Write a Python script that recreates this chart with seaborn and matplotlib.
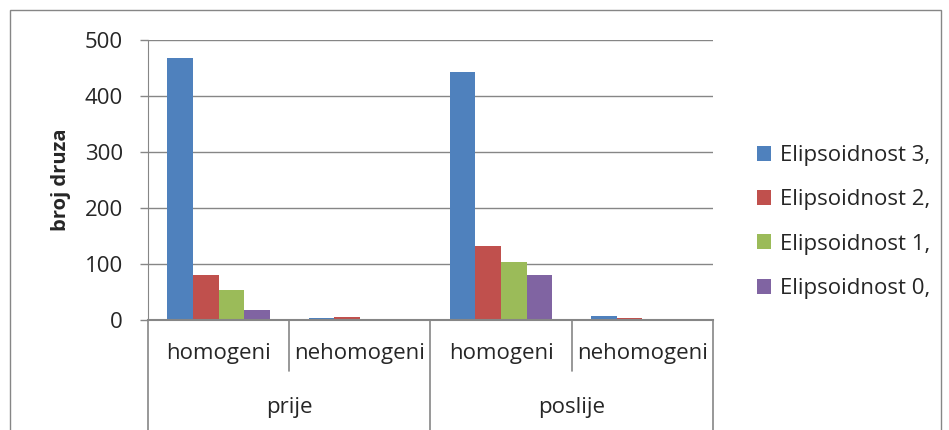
import numpy as np
import pandas as pd
import seaborn as sns
import matplotlib.pyplot as plt
from matplotlib.patches import Patch, Rectangle

# podaci ocitani sa slike
periodi = ['prije', 'prije', 'poslije', 'poslije']
tipovi = ['homogeni', 'nehomogeni', 'homogeni', 'nehomogeni']
serije = ['Elipsoidnost 3,', 'Elipsoidnost 2,', 'Elipsoidnost 1,', 'Elipsoidnost 0,']
elips3 = [468, 4, 443, 8]
elips2 = [81, 5, 133, 4]
elips1 = [53, 0.5, 103, 2.5]
elips0 = [17, 0.3, 80, 2.5]
boje = ['#4F81BD', '#C0504D', '#9BBB59', '#8064A2']

grupe = [p + '|' + t for p, t in zip(periodi, tipovi)]
df = pd.DataFrame({
    'grupa': grupe * 4,
    'serija': np.repeat(serije, 4),
    'broj': elips3 + elips2 + elips1 + elips0,
})

sns.set_style('white')
plt.rcParams['font.family'] = ['Open Sans', 'DejaVu Sans']
fs = 16

fig = plt.figure(figsize=(9.49, 4.30), dpi=100)
ax = fig.add_axes([148 / 949, 1 - 320 / 430, (713 - 148) / 949, 280 / 430])

sns.barplot(data=df, x='grupa', y='broj', hue='serija', hue_order=serije,
            order=grupe, palette=boje, width=4 / 5.5, saturation=1,
            legend=False, ax=ax, edgecolor='none', linewidth=0)

siva = '#868686'
ax.set_ylim(0, 500)
ax.set_xlim(-0.5, 3.5)
ax.set_yticks(range(0, 501, 100))
ax.yaxis.grid(True, color=siva, linewidth=1)
ax.set_axisbelow(True)
for s in ['top', 'right']:
    ax.spines[s].set_visible(False)
ax.spines['left'].set_color(siva)
ax.spines['bottom'].set_color(siva)
ax.spines['bottom'].set_linewidth(1.5)
ax.tick_params(axis='y', length=6, width=1, color=siva, direction='out',
               pad=12, labelsize=fs, left=True)
ax.set_xticks([])
ax.set_xlabel('')
ax.set_ylabel('broj druza', fontsize=14.5, fontweight='bold')
ax.yaxis.set_label_coords(-(148 - 71) / 565, 0.5)

# viseslojna os kategorija
trans = ax.get_xaxis_transform()
donji = (320 - 440) / 280
srednji = (320 - 371) / 280
for xp in [-0.5, 1.5, 3.5]:
    ax.plot([xp, xp], [0, donji], color=siva, linewidth=1.2, clip_on=False,
            transform=trans)
for xp in [0.5, 2.5]:
    ax.plot([xp, xp], [0, srednji], color=siva, linewidth=1.2, clip_on=False,
            transform=trans)
for i, t in enumerate(tipovi):
    ax.text(i, (320 - 353) / 280, t, ha='center', va='center', fontsize=fs,
            transform=trans)
for i, p in enumerate(['prije', 'poslije']):
    ax.text(2 * i + 0.5, (320 - 407) / 280, p, ha='center', va='center',
            fontsize=fs, transform=trans)

handles = [Patch(facecolor=c, edgecolor='none') for c in boje]
fig.legend(handles, serije, loc='upper left',
           bbox_to_anchor=(748 / 949, 1 - 136 / 430),
           frameon=False, fontsize=fs, handlelength=0.65, handleheight=0.65,
           handletextpad=0.4, labelspacing=1.05, borderaxespad=0)

fig.add_artist(Rectangle((9.5 / 949, -0.05), 931 / 949, 1.05 - 10 / 430,
                         transform=fig.transFigure, fill=False,
                         edgecolor=siva, linewidth=1))

fig.savefig('out.png', dpi=100)
